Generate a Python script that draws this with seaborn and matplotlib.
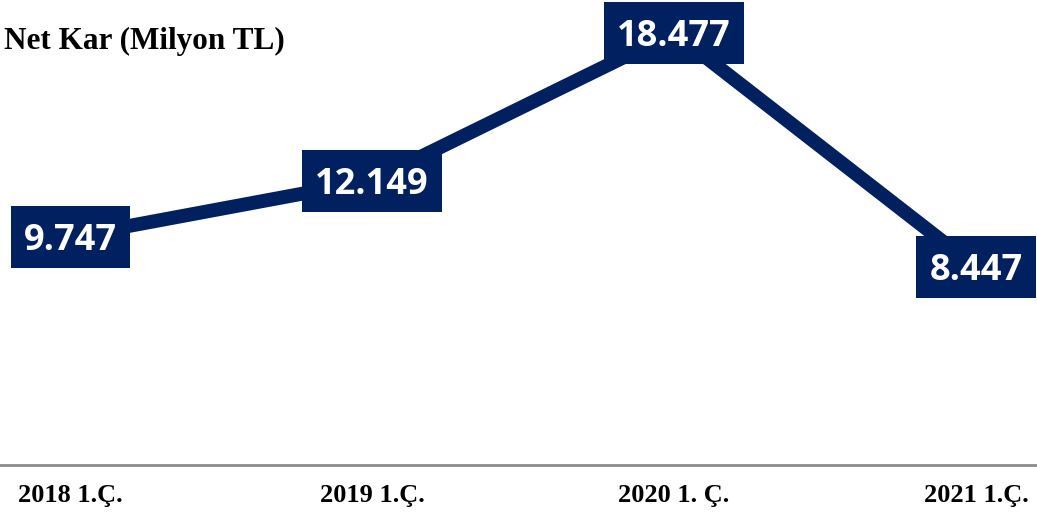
import pandas as pd
import matplotlib
matplotlib.use("Agg")
import matplotlib.pyplot as plt
import matplotlib.transforms as mtransforms
from matplotlib.path import Path
import seaborn as sns

# ── Data ─────────────────────────────────────────────────────────────────────

periods = ["2018 1.Ç.", "2019 1.Ç.", "2020 1. Ç.", "2021 1.Ç."]
net_kar = [9747, 12149, 18477, 8447]   # milyon TL

df = pd.DataFrame({"pos": range(len(periods)), "net_kar": net_kar})

NAVY = "#002060"


def label_box(x0, y0, width, height, mutation_size):
    # square box, a little more room above the digits than below
    pad = 0.36 * mutation_size
    nudge = 0.11 * mutation_size
    left, right = x0 - pad, x0 + width + pad
    bottom, top = y0 - pad + nudge, y0 + height + pad + nudge
    return Path([(left, bottom), (right, bottom), (right, top), (left, top),
                 (left, bottom)], closed=True)


# ── Plot ─────────────────────────────────────────────────────────────────────

sns.set_theme(style="white")
fig = plt.figure(figsize=(10.37, 5.15), dpi=100)
ax = fig.add_axes([0, 0.097, 1, 0.903])

sns.lineplot(data=df, x="pos", y="net_kar", ax=ax, color=NAVY,
             linewidth=10, zorder=2)

shift_down = mtransforms.offset_copy(ax.transData, fig=fig, x=0, y=-4, units="dots")
for x, v in zip(df["pos"], df["net_kar"]):
    label = f"{v:,}".replace(",", ".")
    ax.text(x, v, label, ha="center", va="center", fontsize=26,
            fontweight="bold", family="Open Sans", color="white", zorder=3,
            transform=shift_down,
            bbox=dict(boxstyle=label_box, fc=NAVY, ec="none"))

ax.set_xlim(-0.232, 3.202)
ax.set_ylim(0, 19870)
ax.set_xticks(df["pos"])
ax.set_xticklabels(periods, fontsize=19, fontweight="bold",
                   family="Liberation Serif", color="black")
ax.set_yticks([])
ax.set_xlabel("")
ax.set_ylabel("")
ax.tick_params(axis="x", length=0, pad=14)

for side in ["top", "left", "right"]:
    ax.spines[side].set_visible(False)
ax.spines["bottom"].set_color("#8c8c8c")
ax.spines["bottom"].set_linewidth(2)

fig.text(0.004, 1 - 41 / 515, "Net Kar (Milyon TL)", ha="left", va="center",
         fontsize=22.5, fontweight="bold", family="Liberation Serif",
         color="black")

fig.savefig("out.png", dpi=100)
